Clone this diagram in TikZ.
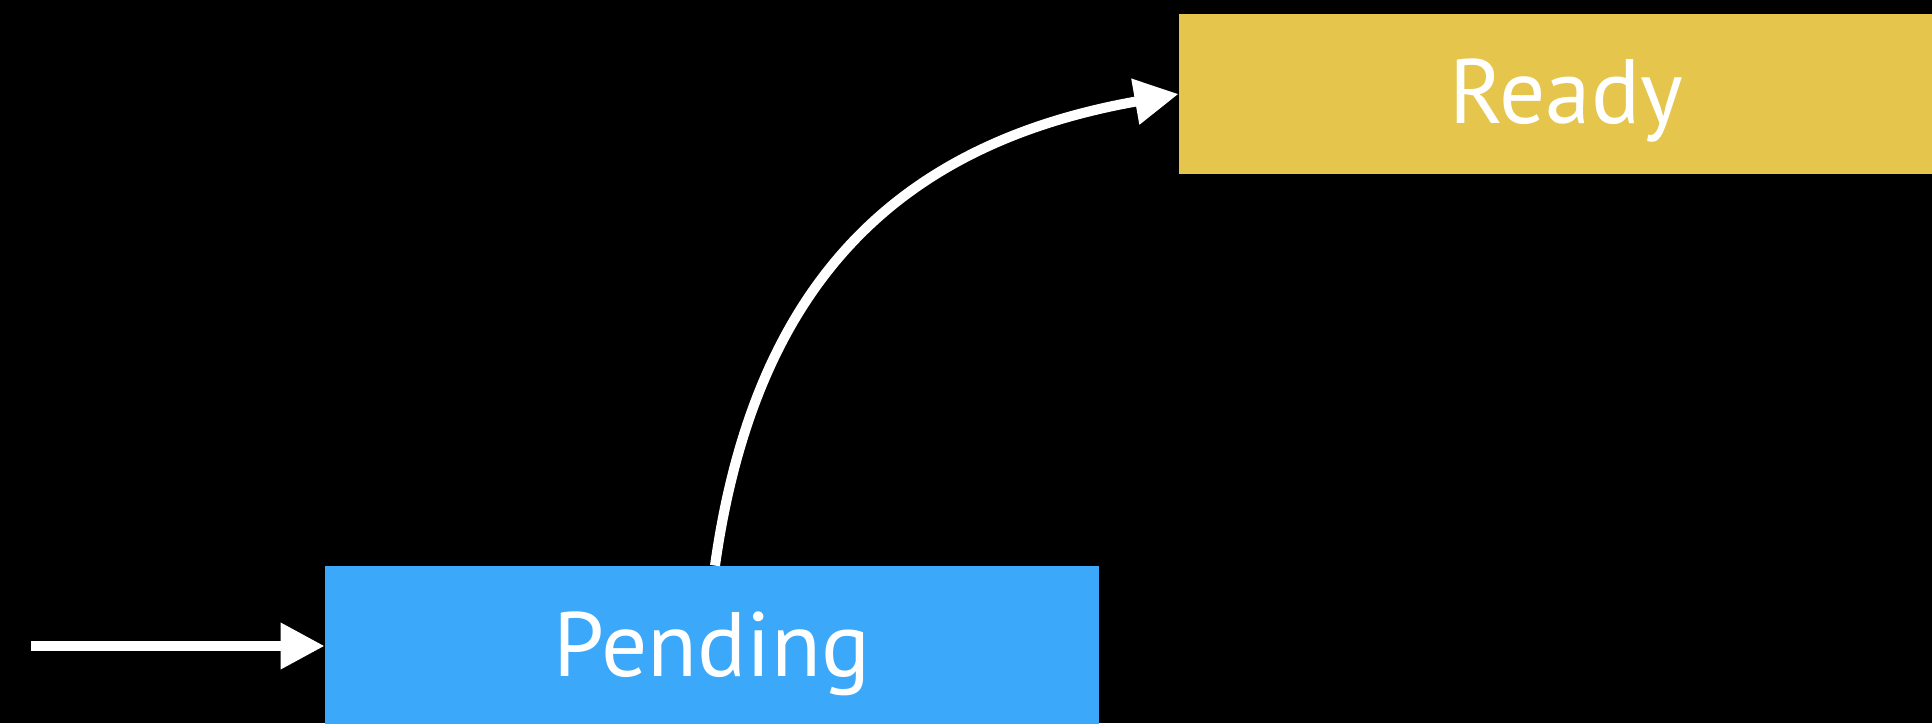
\documentclass[tikz,border=0pt]{standalone}
\usepackage{fontspec}
\setmainfont{PT Sans}
\usepackage{tikz}
\usetikzlibrary{arrows.meta}
\definecolor{PendingBlue}{RGB}{59,168,250}
\definecolor{ReadyYellow}{RGB}{229,197,76}
\tikzset{state box/.style={inner sep=0pt, minimum height=80pt, minimum width=387pt, text=white, text height=30pt, text depth=0pt, font=\fontsize{45.7}{50}\selectfont}}
\tikzset{state arrow/.style={draw=white, line width=5pt, -{Triangle[length=22pt, width=22pt]}}}

\begin{document}
\begin{tikzpicture}[x=0.5pt, y=0.5pt]
\fill[black] (0,0) rectangle (1932,723);
\useasboundingbox (0,0) rectangle (1932,723);

\node[state box, fill=PendingBlue] (pending) at (712,77) {Pending};
\node[state box, fill=ReadyYellow] (ready) at (1566,629) {Ready};

\coordinate (entry) at (31,77);
\draw[state arrow] (entry) -- (pending.west);
\draw[state arrow] ([xshift=1.5pt]pending.north) to[out=82, in=190, out distance=140pt, in distance=145pt] (ready.west);

\end{tikzpicture}
\end{document}
